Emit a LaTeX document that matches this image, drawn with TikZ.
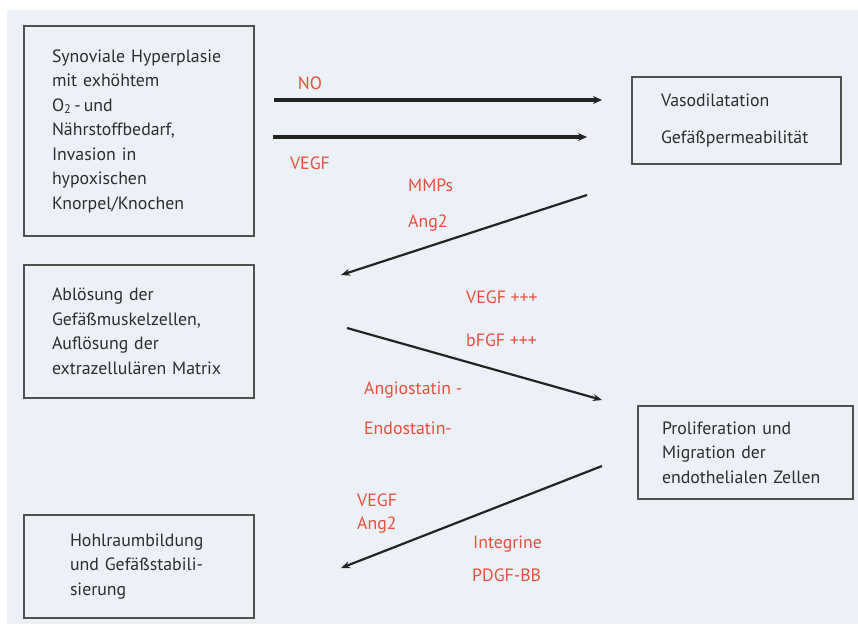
\documentclass[tikz,border=0pt]{standalone}
\usepackage{fontspec}
\setmainfont{PT Sans}
\usetikzlibrary{arrows.meta}
\definecolor{panel}{RGB}{236,241,248}
\definecolor{txt}{RGB}{45,45,45}
\definecolor{boxline}{RGB}{80,80,80}
\definecolor{lab}{RGB}{232,80,58}
\definecolor{arr}{RGB}{35,35,35}
\tikzset{
  box/.style={draw=boxline, line width=1.1pt, align=left, inner ysep=0pt, text=txt,
    font=\fontsize{17.8}{24.5}\selectfont},
  lbl/.style={text=lab, inner sep=0pt, font=\fontsize{17.8}{20}\selectfont},
  thickarr/.style={draw=arr, line width=3.2pt, -{Stealth[length=9pt,width=8pt]}},
  thinarr/.style={draw=arr, line width=2.2pt, -{Stealth[length=9pt,width=7pt]}}
}
\begin{document}
\begin{tikzpicture}[x=1pt,y=-1pt]
\useasboundingbox (0,0) rectangle (858,624);
\fill[white] (0,0) rectangle (858,624);
\fill[panel] (7,10) rectangle (858,624);

\node[box, minimum width=230, minimum height=210, text width=174, inner xsep=28] (b1) at (139,131)
  {Synoviale Hyperplasie\\ mit exhöhtem\\ O\textsubscript{2}\,-\,und\\ Nährstoffbedarf,\\ Invasion in\\ hypoxischen\\ Knorpel/Knochen};
\node[box, minimum width=209, minimum height=87, text width=151, inner xsep=29,
  font=\fontsize{17.8}{37}\selectfont] (b2) at (736.5,120.5)
  {Vasodilatation\\ Gefäßpermeabilität};
\node[box, minimum width=230, minimum height=133, text width=174, inner xsep=28] (b3) at (139,331.5)
  {Ablösung der\\ Gefäßmuskelzellen,\\ Auflösung der\\ extrazellulären Matrix};
\node[box, minimum width=230, minimum height=103, text width=138, inner xsep=46] (b4) at (139,566.5)
  {Hohlraumbildung\\ und Gefäßstabili-\\ sierung};
\node[box, minimum width=215, minimum height=93, text width=167, inner xsep=24] (b5) at (745.5,452.5)
  {Proliferation und\\ Migration der\\ endothelialen Zellen};

\coordinate (a1s) at (274,100);  \coordinate (a1e) at (602,100);
\coordinate (a2s) at (273,137);  \coordinate (a2e) at (587,137);
\coordinate (a3s) at (587,195);  \coordinate (a3e) at (341,275);
\coordinate (a4s) at (347,328);  \coordinate (a4e) at (602,400);
\coordinate (a5s) at (602,466);  \coordinate (a5e) at (341,568);

\draw[thickarr] (a1s) -- (a1e);
\draw[thickarr] (a2s) -- (a2e);
\draw[thinarr] (a3s) -- (a3e);
\draw[thinarr] (a4s) -- (a4e);
\draw[thinarr] (a5s) -- (a5e);

\node[lbl] (lNO) at (310,83) {NO};
\node[lbl] (lVEGF1) at (310,163) {VEGF};
\node[lbl, anchor=west] (lMMP) at (408,185) {MMPs};
\node[lbl, anchor=west] (lAng1) at (408,223) {Ang2};
\node[lbl, anchor=west] (lV3) at (466,297) {VEGF +{}+{}+};
\node[lbl, anchor=west] (lbF) at (466,340) {bFGF +{}+{}+};
\node[lbl, anchor=west] (lAngio) at (364,390) {Angiostatin -};
\node[lbl, anchor=west] (lEndo) at (364,428) {Endostatin-};
\node[lbl, anchor=west] (lV4) at (357,500) {VEGF};
\node[lbl, anchor=west] (lAng2) at (357,525) {Ang2};
\node[lbl, anchor=west] (lInt) at (473,544) {Integrine};
\node[lbl, anchor=west] (lPDGF) at (472,575) {PDGF-BB};
\end{tikzpicture}
\end{document}
